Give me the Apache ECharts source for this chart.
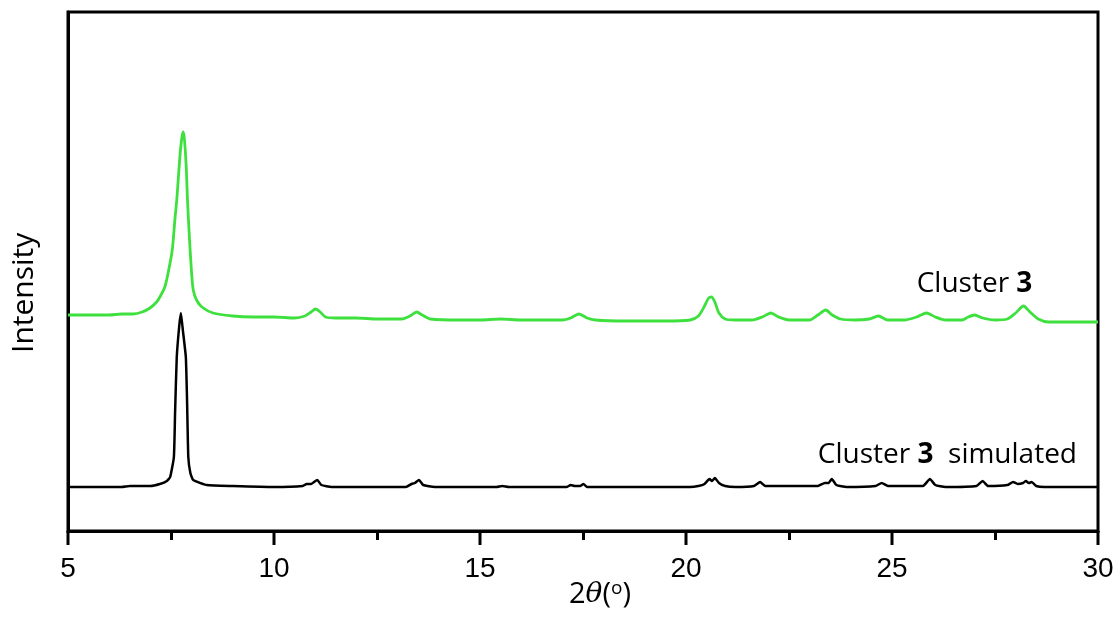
<!DOCTYPE html>
<html>
<head>
<meta charset="utf-8">
<script src="https://cdn.jsdelivr.net/npm/echarts@6/dist/echarts.min.js"></script>
<style>
  html, body { margin: 0; padding: 0; background: #fff; }
  #chart { width: 1120px; height: 619px; }
</style>
</head>
<body>
<div id="chart"></div>
<script>
// Powder XRD patterns: measured vs simulated (intensity in arbitrary units, offset)
const measuredTheta = [
  5.0, 5.5, 6.0, 6.3, 6.58, 6.8, 6.99, 7.15, 7.23, 7.35, 7.43, 7.53, 7.60, 7.64, 7.69, 7.73, 7.77, 7.80,
  7.83, 7.87, 7.90, 7.95, 8.00, 8.04, 8.12, 8.25, 8.52, 9.0, 9.5, 10.0, 10.5, 10.75, 10.9, 11.01, 11.12,
  11.25, 11.5, 12.0, 12.5, 13.1, 13.3, 13.46, 13.6, 13.8, 14.5, 15.0, 15.5, 16.0, 16.5, 17.0, 17.2, 17.4,
  17.6, 17.8, 18.5, 19.0, 19.5, 20.1, 20.3, 20.45, 20.55, 20.62, 20.7, 20.8, 20.95, 21.2, 21.6, 21.85,
  22.06, 22.25, 22.5, 23.0, 23.2, 23.39, 23.55, 23.75, 24.1, 24.45, 24.67, 24.9, 25.3, 25.6, 25.84, 26.05,
  26.3, 26.7, 26.85, 27.01, 27.2, 27.5, 27.8, 28.0, 28.19, 28.35, 28.55, 28.8, 29.3, 30.0
];
const measuredIntensity = [
  216, 216, 216, 217, 217, 219, 223, 229, 234, 244, 258, 281, 314, 331, 360, 381, 395, 399,
  390, 364, 331, 291, 258, 241, 231, 224, 218, 215, 214, 214, 213, 215, 219, 222, 219,
  214, 213, 213, 212, 212, 215, 219, 216, 212, 211, 211, 212, 211, 211, 211, 213, 217,
  213, 211, 210, 210, 210, 211, 215, 225, 233, 234, 229, 218, 212, 211, 211, 214,
  218, 214, 211, 211, 216, 221, 216, 212, 211, 212, 215, 211, 211, 214, 218, 214,
  211, 211, 214, 216, 213, 211, 212, 218, 225, 219, 212, 209, 209, 209
];

const simulatedTheta = [
  5.0, 6.0, 6.3, 6.5, 7.0, 7.23, 7.40, 7.48, 7.57, 7.60, 7.64, 7.70, 7.74, 7.79, 7.86, 7.89, 7.92, 7.97,
  8.04, 8.37, 9.0, 10.0, 10.7, 10.79, 10.9, 11.05, 11.15, 11.4, 13.2, 13.34, 13.42, 13.52, 13.62, 13.9,
  15.4, 15.54, 15.7, 17.1, 17.2, 17.3, 17.43, 17.51, 17.6, 19.0, 20.1, 20.3, 20.45, 20.57, 20.63, 20.70,
  20.8, 20.95, 21.2, 21.65, 21.8, 21.92, 23.2, 23.37, 23.46, 23.54, 23.65, 23.9, 24.6, 24.75, 24.9,
  25.75, 25.92, 26.05, 26.3, 27.05, 27.2, 27.33, 27.8, 27.94, 28.05, 28.18, 28.25, 28.32, 28.39, 28.5,
  28.7, 30.0
];
const simulatedIntensity = [
  44, 44, 44, 45, 45, 47, 50, 54, 74, 120, 174, 205, 218, 200, 174, 130, 74, 58,
  51, 46, 45, 44, 45, 47, 47, 51, 46, 44, 44, 47, 48, 51, 46, 44,
  44, 45, 44, 44, 46, 45, 45, 47, 44, 44, 44, 45, 47, 52, 50, 53,
  48, 45, 44, 45, 49, 45, 45, 48, 48, 52, 46, 44, 45, 48, 45,
  45, 52, 46, 44, 45, 50, 45, 46, 49, 47, 48, 50, 48, 49, 45,
  44, 44
];

const xTickValues = [5, 10, 15, 20, 25, 30];
const xTickLabels = ['5', '10', '15', '20', '25', '30'];
const seriesNames = ['Cluster 3', 'Cluster 3 simulated'];

const zip = (xs, ys) => xs.map((x, i) => [x, ys[i]]);

const chart = echarts.init(document.getElementById('chart'), null, { renderer: 'canvas' });

const labelFont = '"Open Sans", sans-serif';
const MAJOR_TICK_LEN = 14;
const TICK_WIDTH = 3;

chart.setOption({
  animation: false,
  backgroundColor: '#ffffff',
  grid: {
    left: 68, right: 22, top: 12, bottom: 88,
    show: true, borderColor: '#000', borderWidth: 3, backgroundColor: 'transparent'
  },
  xAxis: {
    type: 'value',
    min: 5, max: 30, interval: 5,
    axisLine: { show: true, lineStyle: { color: '#000', width: 3 } },
    axisTick: { show: false },
    minorTick: { show: true, splitNumber: 2, length: 9, lineStyle: { color: '#000', width: TICK_WIDTH } },
    splitLine: { show: false },
    axisLabel: {
      margin: 24,
      fontFamily: '"Liberation Sans", Arial, sans-serif',
      fontSize: 28,
      color: '#000',
      formatter: v => xTickLabels[xTickValues.indexOf(v)] ?? ''
    }
  },
  yAxis: {
    type: 'value',
    min: 0, max: 519,
    axisLine: { show: true, lineStyle: { color: '#000', width: 3 } },
    axisTick: { show: false },
    axisLabel: { show: false },
    splitLine: { show: false }
  },
  graphic: [
    {
      type: 'text',
      rotation: Math.PI / 2,
      x: 9, y: 353,
      style: {
        text: 'Intensity',
        font: '30px "Open Sans", sans-serif',
        fill: '#000'
      }
    },
    {
      type: 'text',
      left: 569, top: 579,
      style: {
        text: '2{i|θ}({s|o})',
        rich: {
          i: { fontFamily: '"DejaVu Serif", serif', fontStyle: 'italic', fontSize: 28, fill: '#000' },
          s: { fontFamily: '"Open Sans", sans-serif', fontSize: 19, verticalAlign: 'top', padding: [0, 0, 12, 0], fill: '#000' }
        },
        font: '29px "Open Sans", sans-serif',
        fill: '#000'
      }
    }
  ],
  series: [
    {
      name: seriesNames[0],
      type: 'line',
      data: zip(measuredTheta, measuredIntensity),
      showSymbol: false,
      smooth: 0.25,
      lineStyle: { color: '#3ee03e', width: 2.8 },
      markPoint: {
        symbol: 'circle', symbolSize: 0,
        data: [{ coord: [25.6, 247] }],
        label: {
          show: true, position: 'right', distance: 0,
          formatter: 'Cluster {b|3}',
          fontFamily: labelFont, fontSize: 28, color: '#000',
          rich: { b: { fontFamily: labelFont, fontSize: 28, fontWeight: 'bold', color: '#000' } }
        }
      }
    },
    {
      name: seriesNames[1],
      type: 'line',
      data: zip(simulatedTheta, simulatedIntensity),
      showSymbol: false,
      smooth: 0.15,
      lineStyle: { color: '#000', width: 2.5 },
      markPoint: {
        symbol: 'circle', symbolSize: 0,
        data: [{ coord: [23.2, 76] }],
        label: {
          show: true, position: 'right', distance: 0,
          formatter: 'Cluster {b|3}  simulated',
          fontFamily: labelFont, fontSize: 28, color: '#000',
          rich: { b: { fontFamily: labelFont, fontSize: 28, fontWeight: 'bold', color: '#000' } }
        }
      }
    }
  ]
});

// Major ticks on the 2θ axis, positioned through the axis scale
const tickMarks = xTickValues.map((v, i) => {
  const p = chart.convertToPixel({ gridIndex: 0 }, [v, 0]);
  return {
    type: 'rect',
    id: 'major-tick-' + i,
    z: 100,
    silent: true,
    shape: { x: p[0] - TICK_WIDTH / 2, y: p[1], width: TICK_WIDTH, height: MAJOR_TICK_LEN },
    style: { fill: '#000' }
  };
});
chart.setOption({ graphic: tickMarks });
</script>
</body>
</html>
